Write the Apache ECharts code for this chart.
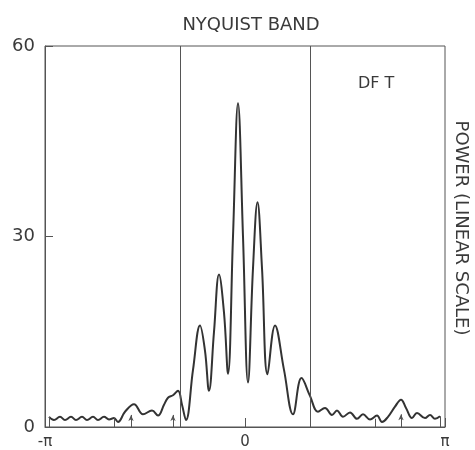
<!DOCTYPE html>
<html>
<head>
<meta charset="utf-8">
<script src="https://cdn.jsdelivr.net/npm/echarts@6/dist/echarts.min.js"></script>
<style>
  html, body { margin: 0; padding: 0; background: #fff; }
  #chart { width: 475px; height: 450px; }
</style>
</head>
<body>
<div id="chart"></div>
<script>
// frequency in units of pi, power
const freq = [
  -0.98, -0.955, -0.925, -0.90, -0.87, -0.845, -0.815, -0.79, -0.76, -0.735,
  -0.705, -0.68, -0.655, -0.635, -0.60, -0.555, -0.51, -0.465, -0.435, -0.405,
  -0.385, -0.36, -0.335, -0.315, -0.295, -0.26, -0.225, -0.20, -0.18, -0.155,
  -0.13, -0.105, -0.085, -0.06, -0.035, -0.01, 0.015, 0.04, 0.0625, 0.085,
  0.1125, 0.15, 0.195, 0.24, 0.2825, 0.325, 0.365, 0.40, 0.435, 0.46,
  0.49, 0.525, 0.56, 0.59, 0.625, 0.66, 0.685, 0.715, 0.75, 0.78,
  0.805, 0.835, 0.86, 0.90, 0.925, 0.95, 0.975
];
const power = [
  1.6, 1.1, 1.6, 1.1, 1.6, 1.1, 1.6, 1.1, 1.6, 1.1,
  1.6, 1.2, 1.4, 0.8, 2.4, 3.6, 2.0, 2.6, 1.8, 3.5,
  4.6, 5.0, 5.7, 3.5, 1.1, 9, 16, 12, 5.7, 15,
  24, 18, 8.4, 30, 51, 30, 7, 25, 35.4, 25,
  8.3, 16, 9, 2, 7.7, 4.9, 2.4, 3.0, 1.9, 2.6,
  1.6, 2.3, 1.3, 2.0, 1.2, 1.8, 0.8, 1.6, 3.2, 4.3,
  3.0, 1.4, 2.2, 1.4, 1.9, 1.3, 1.7
];
// Nyquist band edges
const bandEdges = [-0.325, 0.325];
// small vertical ticks and arrows along the baseline
const tickXs = [-0.98, -0.655, 0.65, 0.975];
const tickTops = [1.6, 1.4, 1.3, 1.7];
const arrowXs = [-0.57, -0.36, 0.78];
const arrowTops = [1.9, 1.9, 2.0];
const yTicks = [0, 30, 60];

const font = 'DejaVu Sans';
const ink = '#3a3a3a';

const chart = echarts.init(document.getElementById('chart'));

const markData = [];
bandEdges.forEach(x => {
  markData.push([{ coord: [x, 0], symbol: 'none' }, { coord: [x, 60], symbol: 'none' }]);
});
tickXs.forEach((x, i) => {
  markData.push([{ coord: [x, 0], symbol: 'none' }, { coord: [x, tickTops[i]], symbol: 'none' }]);
});
arrowXs.forEach((x, i) => {
  markData.push([
    { coord: [x, 0], symbol: 'none' },
    { coord: [x, arrowTops[i]], symbol: 'arrow', symbolSize: [4, 6] }
  ]);
});

chart.setOption({
  animation: false,
  grid: {
    left: 45, right: 30, top: 46, bottom: 22,
    show: true, borderColor: '#555', borderWidth: 1
  },
  title: {
    text: 'NYQUIST BAND',
    left: 246, top: 11, textAlign: 'center',
    textStyle: { fontFamily: font, fontSize: 18, fontWeight: 'normal', color: ink }
  },
  xAxis: {
    type: 'value', min: -1, max: 1, interval: 1,
    axisLine: { lineStyle: { color: '#555', width: 1 } },
    axisTick: { inside: true, length: 9, lineStyle: { color: '#555' } },
    splitLine: { show: false },
    axisLabel: {
      margin: 8, fontFamily: font, fontSize: 15, color: ink,
      formatter: v => (v === -1 ? '-π' : v === 1 ? 'π' : '0')
    }
  },
  yAxis: {
    type: 'value', min: yTicks[0], max: yTicks[yTicks.length - 1], interval: 30,
    axisLine: { show: true, onZero: false, lineStyle: { color: '#555', width: 1 } },
    axisTick: { show: true, inside: true, length: 8, lineStyle: { color: '#555' } },
    splitLine: { show: false },
    axisLabel: { margin: 10, fontFamily: font, fontSize: 18, color: ink }
  },
  graphic: [
    {
      type: 'text', left: 358, top: 76,
      style: { text: 'DF T', fontFamily: font, fontSize: 16, fill: ink }
    },
    {
      type: 'text', x: 461, y: 228, rotation: -Math.PI / 2,
      style: {
        text: 'POWER (LINEAR SCALE)', fontFamily: font, fontSize: 18, fill: ink,
        align: 'center', verticalAlign: 'middle'
      }
    }
  ],
  series: [{
    type: 'line',
    data: freq.map((f, i) => [f, power[i]]),
    smooth: 0.4,
    showSymbol: false,
    lineStyle: { color: '#333', width: 2 },
    markLine: {
      silent: true,
      symbol: 'none',
      label: { show: false },
      lineStyle: { color: '#555', width: 1, type: 'solid' },
      data: markData
    }
  }]
});
</script>
</body>
</html>
